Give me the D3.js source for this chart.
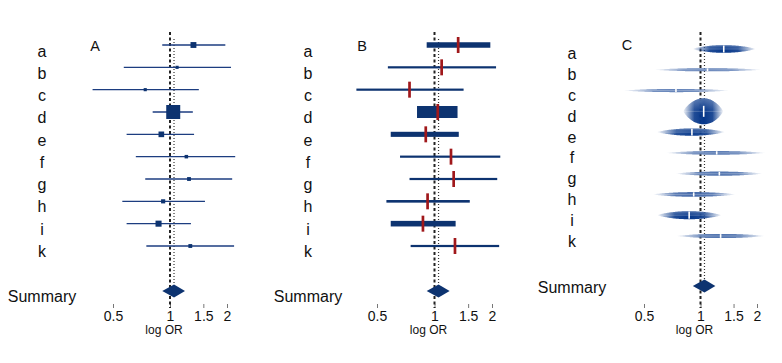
<!DOCTYPE html>
<html>
<head>
<meta charset="utf-8">
<script src="https://cdn.jsdelivr.net/npm/d3@7"></script>
<style>
body { margin: 0; background: #fff; }
svg { font-family: "Liberation Sans", Arial, Helvetica, sans-serif; }
</style>
</head>
<body>
<svg id="chart" width="782" height="363"></svg>
<script>
// study data (odds ratios)
var studies  = ["a", "b", "c", "d", "e", "f", "g", "h", "i", "k"];
var estimate = [1.33, 1.09, 0.74, 1.04, 0.90, 1.22, 1.26, 0.92, 0.87, 1.28];
var lower    = [0.91, 0.57, 0.39, 0.81, 0.59, 0.66, 0.74, 0.56, 0.59, 0.75];
var upper    = [1.96, 2.10, 1.42, 1.32, 1.34, 2.21, 2.13, 1.53, 1.29, 2.18];
var weight   = [7, 2, 2, 40, 6.5, 2.5, 3, 3.5, 7.5, 3];

var summaryEst = 1.05;
var summaryLo  = 0.91;
var summaryHi  = 1.20;

var tickValues = [0.5, 1, 1.5, 2];
var panelNames = ["A", "B", "C"];
var axisTitle = "log OR";
var summaryLabel = "Summary";

var navy = "#0d3370";
var svg = d3.select("#chart");

// layout of the three panels
var layout = {
  A: {x0: 113, x1: 227, rows: [45, 246], labs: [56.7, 257], labX: 42, sumY: 291, sumLabY: 301.5, tagX: 95, tagY: 50.5, dotTop: 39},
  B: {x0: 377, x1: 492, rows: [45, 246], labs: [56.7, 257], labX: 308, sumY: 291, sumLabY: 302, tagX: 362, tagY: 50.5, dotTop: 39},
  C: {x0: 644, x1: 757, rows: [49, 236], labs: [59, 247], labX: 572, sumY: 286, sumLabY: 293, tagX: 627, tagY: 49.5, dotTop: 44}
};

var defs = svg.append("defs");

// soft light on the top half of the drops in panel C
var gloss = defs.append("linearGradient").attr("id", "gloss")
  .attr("x1", 0).attr("x2", 0).attr("y1", 0).attr("y2", 1);
gloss.append("stop").attr("offset", 0).attr("stop-color", "#fff").attr("stop-opacity", 0.3);
gloss.append("stop").attr("offset", 0.5).attr("stop-color", "#fff").attr("stop-opacity", 0);
gloss.append("stop").attr("offset", 1).attr("stop-color", "#fff").attr("stop-opacity", 0);

function drawPanel(name) {
  var L = layout[name];
  var x = d3.scaleLog().domain([0.5, 2]).range([L.x0, L.x1]);
  var y = d3.scalePoint().domain(studies).range(L.rows);
  var yl = d3.scalePoint().domain(studies).range(L.labs);
  var g = svg.append("g").attr("class", "panel" + name);

  // row labels
  g.selectAll(".rowlab").data(studies).enter().append("text")
    .attr("x", L.labX).attr("y", function(d) { return yl(d); })
    .attr("text-anchor", "middle").attr("font-size", 16).attr("fill", "#111")
    .text(function(d) { return d; });

  g.append("text").attr("x", L.labX).attr("y", L.sumLabY)
    .attr("text-anchor", "middle").attr("font-size", 16).attr("fill", "#111")
    .text(summaryLabel);

  g.append("text").attr("x", L.tagX).attr("y", L.tagY)
    .attr("text-anchor", "middle").attr("font-size", 14.5).attr("fill", "#111")
    .text(name);

  // axis
  var ax = g.append("g").attr("transform", "translate(0,304)")
    .call(d3.axisBottom(x).tickValues(tickValues).tickSize(4).tickPadding(3)
      .tickFormat(function(d) { return String(d); }));
  ax.select(".domain").remove();
  ax.selectAll(".tick line").attr("stroke", "#777");
  ax.selectAll(".tick text").attr("font-size", 14).attr("fill", "#111")
    .attr("font-family", "\"Liberation Sans\", Arial, sans-serif");

  g.append("text").attr("x", x(1) - 6).attr("y", 333.5)
    .attr("text-anchor", "middle").attr("font-size", 12).attr("fill", "#111")
    .text(axisTitle);

  // reference lines
  g.append("line").attr("x1", x(1)).attr("x2", x(1)).attr("y1", 32).attr("y2", 308)
    .attr("stroke", "#222").attr("stroke-width", 2).attr("stroke-dasharray", "3,2.5");
  g.append("line").attr("x1", x(summaryEst)).attr("x2", x(summaryEst))
    .attr("y1", L.dotTop).attr("y2", L.sumY)
    .attr("stroke", "#333").attr("stroke-width", 1.2).attr("stroke-dasharray", "1,2");

  var idx = d3.range(studies.length);

  if (name === "A") {
    g.selectAll(".ci").data(idx).enter().append("line")
      .attr("x1", function(j) { return x(lower[j]); })
      .attr("x2", function(j) { return x(upper[j]); })
      .attr("y1", function(j) { return y(studies[j]); })
      .attr("y2", function(j) { return y(studies[j]); })
      .attr("stroke", "#1c3d80").attr("stroke-width", 1.4);
    var side = d3.scaleSqrt().domain([0, 40]).range([0, 14]);
    g.selectAll(".sq").data(idx).enter().append("rect")
      .attr("x", function(j) { return x(estimate[j]) - side(weight[j]) / 2; })
      .attr("y", function(j) { return y(studies[j]) - side(weight[j]) / 2; })
      .attr("width", function(j) { return side(weight[j]); })
      .attr("height", function(j) { return side(weight[j]); })
      .attr("fill", navy);
  }

  if (name === "B") {
    var thick = d3.scaleLinear().domain([3, 7, 40]).range([2.2, 5.5, 12]).clamp(true);
    g.selectAll(".bar").data(idx).enter().append("rect")
      .attr("x", function(j) { return x(lower[j]); })
      .attr("width", function(j) { return x(upper[j]) - x(lower[j]); })
      .attr("y", function(j) { return y(studies[j]) - thick(weight[j]) / 2; })
      .attr("height", function(j) { return thick(weight[j]); })
      .attr("fill", navy);
    g.selectAll(".est").data(idx).enter().append("line")
      .attr("x1", function(j) { return x(estimate[j]); })
      .attr("x2", function(j) { return x(estimate[j]); })
      .attr("y1", function(j) { return y(studies[j]) - 8; })
      .attr("y2", function(j) { return y(studies[j]) + 8; })
      .attr("stroke", "#a0181b").attr("stroke-width", 2.7);
  }

  if (name === "C") {
    var hgt = d3.scalePow().exponent(0.7).domain([0, 40]).range([0, 26]);
    var shade = d3.scaleLinear().domain([2, 7]).range([0.4, 1]).clamp(true);
    var col = d3.interpolateRgb("#a3b6d8", "#06378a");
    var steps = d3.range(81).map(function(i) { return i / 80; });

    idx.forEach(function(j) {
      var le = Math.log(estimate[j]), ll = Math.log(lower[j]), lh = Math.log(upper[j]);
      var sl = (le - ll) / 1.96, sr = (lh - le) / 1.96;
      var pts = steps.map(function(t) {
        var v = ll + t * (lh - ll);
        var z = v < le ? (v - le) / sl : (v - le) / sr;
        var q = Math.max(0, 1 - (z / 1.96) * (z / 1.96));
        return {v: Math.exp(v), h: Math.pow(q, 0.85)};
      });
      var H = hgt(weight[j]), yc = y(studies[j]);
      var c = col(shade(weight[j]));
      var frac = (x(estimate[j]) - x(lower[j])) / (x(upper[j]) - x(lower[j]));

      var gid = "drop" + j;
      var grad = defs.append("linearGradient").attr("id", gid)
        .attr("gradientUnits", "userSpaceOnUse")
        .attr("x1", x(lower[j])).attr("x2", x(upper[j])).attr("y1", 0).attr("y2", 0);
      grad.append("stop").attr("offset", 0).attr("stop-color", c).attr("stop-opacity", 0.05);
      grad.append("stop").attr("offset", frac * 0.55).attr("stop-color", c).attr("stop-opacity", 0.9);
      grad.append("stop").attr("offset", frac).attr("stop-color", c).attr("stop-opacity", 1);
      grad.append("stop").attr("offset", frac + (1 - frac) * 0.45).attr("stop-color", c).attr("stop-opacity", 0.9);
      grad.append("stop").attr("offset", 1).attr("stop-color", c).attr("stop-opacity", 0.05);

      var area = d3.area()
        .x(function(d) { return x(d.v); })
        .y0(function(d) { return yc - H * d.h / 2; })
        .y1(function(d) { return yc + H * d.h / 2; })
        .curve(d3.curveBasis);
      g.append("path").attr("d", area(pts)).attr("fill", "url(#" + gid + ")");
      if (H > 6) g.append("path").attr("d", area(pts)).attr("fill", "url(#gloss)");

      g.append("line").attr("x1", x(lower[j])).attr("x2", x(upper[j]))
        .attr("y1", yc).attr("y2", yc)
        .attr("stroke", "#fff").attr("stroke-opacity", 0.3).attr("stroke-width", 0.8);

      var th = Math.min(H * 0.9, 11) / 2;
      g.append("line").attr("x1", x(estimate[j])).attr("x2", x(estimate[j]))
        .attr("y1", yc - th).attr("y2", yc + th)
        .attr("stroke", "#fff").attr("stroke-width", 1.6);
    });
  }

  // summary diamond
  g.append("path")
    .attr("d", "M" + x(summaryLo) + "," + L.sumY +
               "L" + x(summaryEst) + "," + (L.sumY - 6.5) +
               "L" + x(summaryHi) + "," + L.sumY +
               "L" + x(summaryEst) + "," + (L.sumY + 6.5) + "Z")
    .attr("fill", navy);
}

panelNames.forEach(drawPanel);
</script>
</body>
</html>
